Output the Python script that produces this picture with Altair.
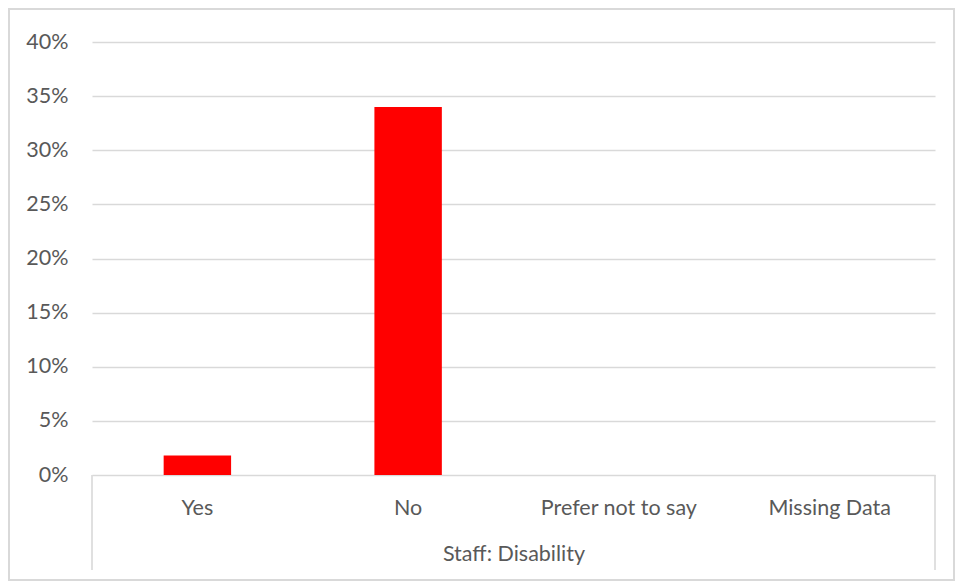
import altair as alt
import pandas as pd

categories = ["Yes", "No", "Prefer not to say", "Missing Data"]
values = [0.018, 0.340, 0.0, 0.0]
y_ticks = [0, 0.05, 0.10, 0.15, 0.20, 0.25, 0.30, 0.35, 0.40]

df = pd.DataFrame({"category": categories, "value": values})
one = pd.DataFrame({"k": [0]})

FONT = "Lato"
TXT = "#595959"
GRID = "#d9d9d9"
W, H = 843, 433
FS = 21.5

bars = alt.Chart(df).mark_bar(color="#ff0000").encode(
    x=alt.X(
        "category:N",
        sort=categories,
        scale=alt.Scale(paddingInner=0.68, paddingOuter=0.34),
        axis=alt.Axis(
            title="Staff: Disability",
            labelAngle=0,
            labelPadding=22,
            labelFontSize=FS,
            labelColor=TXT,
            labelFont=FONT,
            domain=False,
            ticks=False,
            titleFont=FONT,
            titleFontSize=FS,
            titleFontWeight="normal",
            titleColor=TXT,
            titleY=79,
            titleBaseline="middle",
        ),
    ),
    y=alt.Y(
        "value:Q",
        scale=alt.Scale(domain=[0, 0.4]),
        axis=alt.Axis(
            title=None,
            values=y_ticks,
            format=".0%",
            labelFontSize=FS,
            labelColor=TXT,
            labelFont=FONT,
            labelPadding=24,
            domain=False,
            ticks=False,
            grid=True,
            gridColor=GRID,
            gridWidth=1.6,
        ),
    ),
)

vlines = alt.Chart(one).mark_rule(color=GRID, strokeWidth=1.6).encode(
    x=alt.value(0), y=alt.value(H), y2=alt.value(H + 95)
)
vlines2 = alt.Chart(one).mark_rule(color=GRID, strokeWidth=1.6).encode(
    x=alt.value(W), y=alt.value(H), y2=alt.value(H + 95)
)
border = alt.Chart(one).mark_rect(fill=None, stroke=GRID, strokeWidth=2).encode(
    x=alt.value(-83), x2=alt.value(862), y=alt.value(-33), y2=alt.value(538)
)

chart = alt.layer(border, vlines, vlines2, bars).properties(
    width=W, height=H,
    padding={"left": 84, "top": 34, "right": 20, "bottom": 107},
    autosize=alt.AutoSizeParams(type="none"),
).configure_view(stroke=None)

chart.save("out.html", embed_options={"renderer": "svg", "actions": False})
